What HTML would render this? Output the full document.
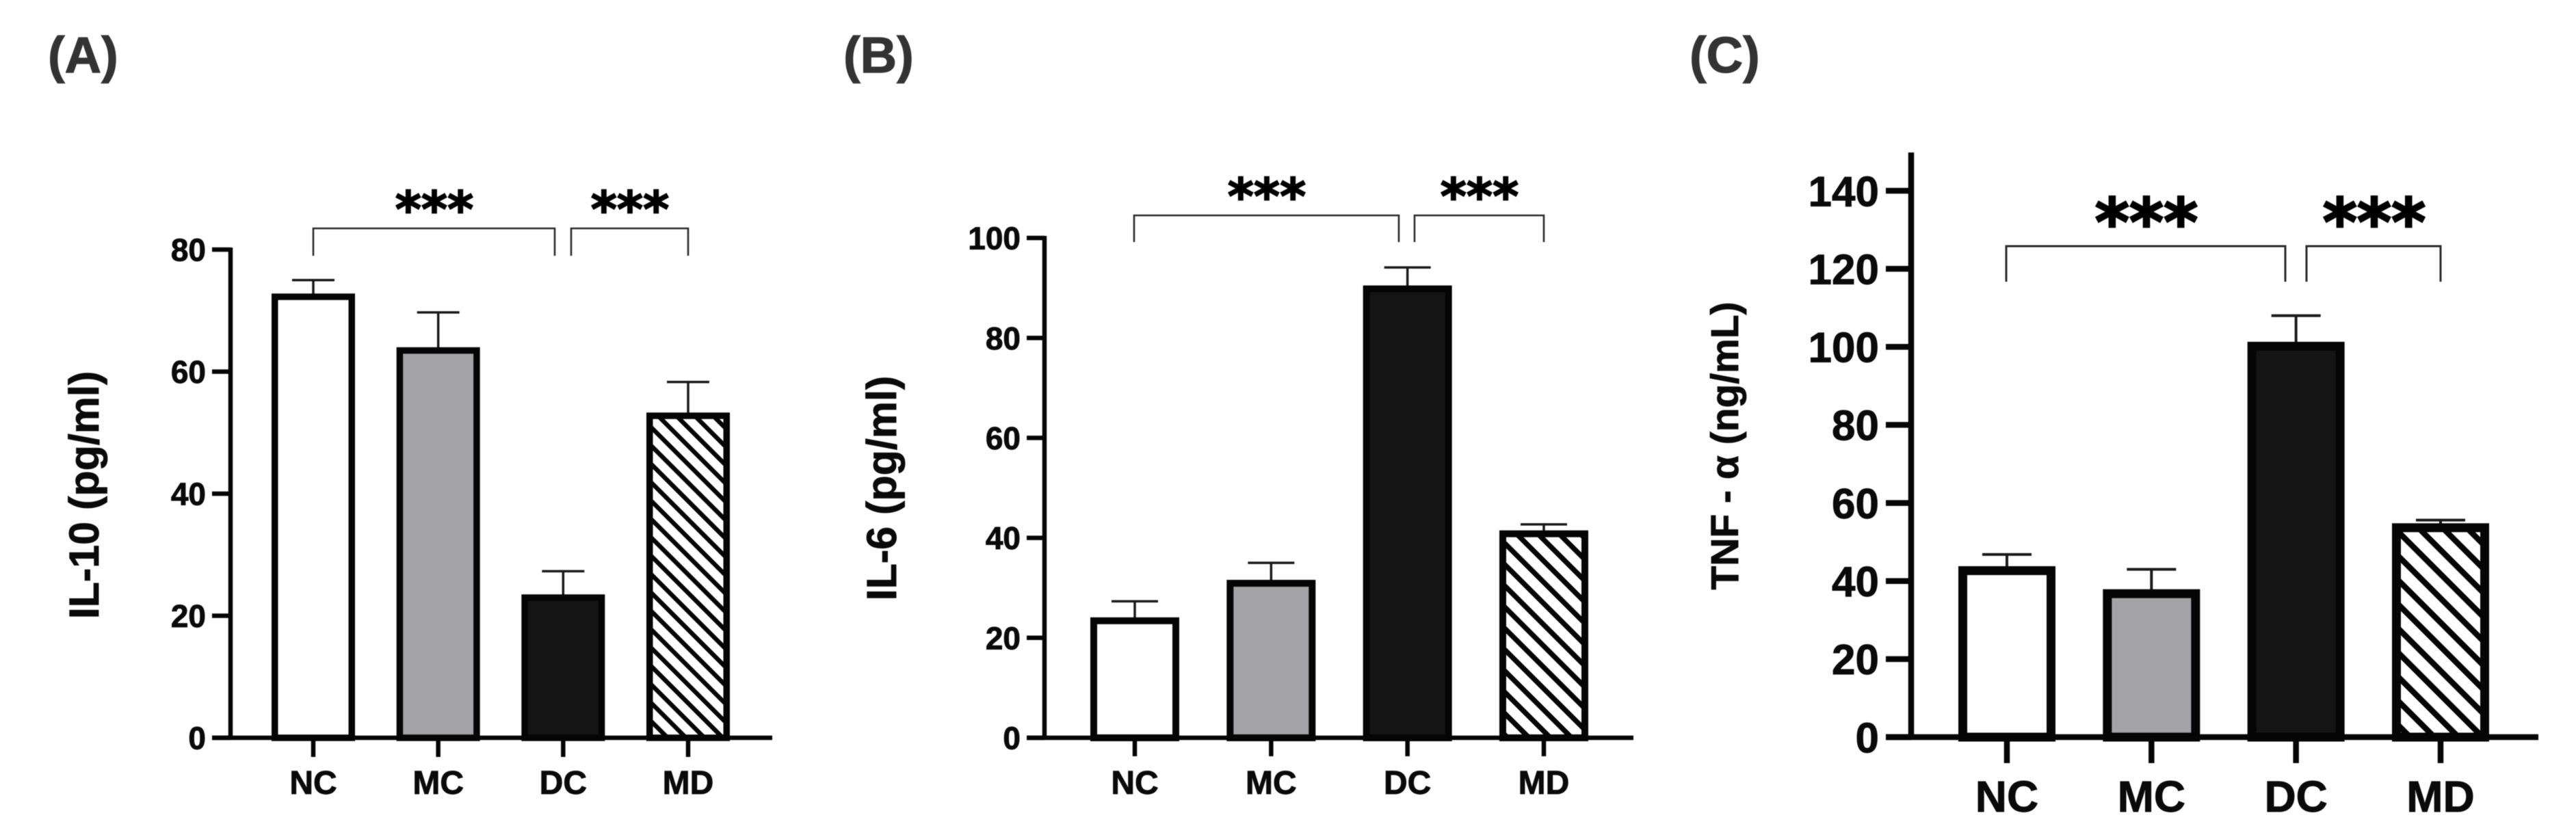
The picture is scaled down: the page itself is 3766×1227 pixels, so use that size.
<!DOCTYPE html>
<html lang="en">
<head>
<meta charset="utf-8">
<title>Cytokine levels by group</title>
<style>
html,body{margin:0;padding:0;background:#fff;width:3766px;height:1227px;overflow:hidden}
svg{display:block;filter:blur(0.6px)}
text{font-family:"Liberation Sans",sans-serif;font-weight:bold;fill:#0a0a0a;stroke:#0a0a0a;stroke-width:0.9px}
.star{font-family:"DejaVu Sans",sans-serif;fill:#000;stroke:#000;stroke-width:1.8px}
.star-large{stroke-width:2.6px}
.panel-tag{fill:#333;stroke:#333;stroke-width:1.2px}
</style>
</head>
<body>
<svg id="figure" xmlns="http://www.w3.org/2000/svg" width="3766" height="1227" viewBox="0 0 3766 1227">
  <defs>
    <pattern id="hatch-a" patternUnits="userSpaceOnUse" width="19" height="19" patternTransform="rotate(-45)">
      <rect width="19" height="19" fill="#fff"></rect>
      <rect x="0" y="0" width="6.5" height="19" fill="#050505"></rect>
    </pattern>
    <pattern id="hatch-b" patternUnits="userSpaceOnUse" width="22" height="22" patternTransform="rotate(-45)">
      <rect width="22" height="22" fill="#fff"></rect>
      <rect x="0" y="0" width="7.5" height="22" fill="#050505"></rect>
    </pattern>
    <pattern id="hatch-c" patternUnits="userSpaceOnUse" width="25" height="25" patternTransform="rotate(-45)">
      <rect width="25" height="25" fill="#fff"></rect>
      <rect x="0" y="0" width="8.5" height="25" fill="#050505"></rect>
    </pattern>
  </defs>
  <text class="panel-tag" x="70" y="106" font-size="74">(A)</text>
  <text class="panel-tag" x="1233" y="106" font-size="74">(B)</text>
  <text class="panel-tag" x="2470" y="106" font-size="74">(C)</text>
  <text transform="translate(144 724) rotate(-90)" text-anchor="middle" font-size="61">IL-10 (pg/ml)</text>
  <text transform="translate(1310 714) rotate(-90)" text-anchor="middle" font-size="61">IL-6 (pg/ml)</text>
  <text transform="translate(2541 652) rotate(-90)" text-anchor="middle" font-size="57">TNF - α (ng/mL)</text>
</svg>
<script>
const categories = ["NC", "MC", "DC", "MD"];

const il10Values = [72.8, 64, 23.5, 53.3];
const il10ErrorTops = [75, 69.7, 27.3, 58.3];
const il10Ticks = [0, 20, 40, 60, 80];

const il6Values = [24.1, 31.6, 90.5, 41.5];
const il6ErrorTops = [27.3, 35, 94.1, 42.7];
const il6Ticks = [0, 20, 40, 60, 80, 100];

const tnfValues = [43.8, 37.9, 101.3, 54.8];
const tnfErrorTops = [46.8, 43, 108, 55.6];
const tnfTicks = [0, 20, 40, 60, 80, 100, 120, 140];

const significanceLabels = ["***", "***"];

const barFills = ["#ffffff", "#a3a2a7", "#141414"];

const svg = document.getElementById("figure");
const NS = "http://www.w3.org/2000/svg";

function make(tag, attrs, parent) {
  const el = document.createElementNS(NS, tag);
  for (const k in attrs) el.setAttribute(k, attrs[k]);
  parent.appendChild(el);
  return el;
}

function drawPanel(cfg) {
  const g = make("g", {}, svg);
  
  

  const yScale = v => cfg.y0 - (v / cfg.yRef) * (cfg.y0 - cfg.yRefPx);
  const xScale = i => cfg.xFirst + i * (cfg.xLast - cfg.xFirst) / (categories.length - 1);

  // bars and error bars
  cfg.values.forEach((v, i) => {
    const cx = xScale(i);
    const top = yScale(v);
    const err = yScale(cfg.errors[i]);
    const errLine = make("line", { x1: cx, x2: cx, y1: err, y2: top + 2, stroke: "#1a1a1a", "stroke-width": cfg.errW }, g);
    
    
    const errCap = make("line", { x1: cx - cfg.capHalf, x2: cx + cfg.capHalf, y1: err, y2: err, stroke: "#1a1a1a", "stroke-width": cfg.errW }, g);
    
    
    const bar = make("rect", {
      x: cx - cfg.barW / 2 + cfg.barStroke / 2,
      y: top + cfg.barStroke / 2,
      width: cfg.barW - cfg.barStroke,
      height: cfg.y0 - top - cfg.barStroke / 2,
      fill: i < barFills.length ? barFills[i] : "url(#" + cfg.hatch + ")",
      stroke: "#050505",
      "stroke-width": cfg.barStroke
    }, g);
    
    
  });

  // axes
  const yAxis = make("line", { x1: cfg.axisX, x2: cfg.axisX, y1: cfg.axisTop, y2: cfg.y0, stroke: "#050505", "stroke-width": cfg.axisW }, g);
  
  
  const xAxis = make("line", { x1: cfg.axisLeft, x2: cfg.axisRight, y1: cfg.y0, y2: cfg.y0, stroke: "#050505", "stroke-width": cfg.axisW }, g);
  
  

  cfg.ticks.forEach(t => {
    const y = yScale(t);
    const tick = make("line", { x1: cfg.axisLeft, x2: cfg.axisX, y1: y, y2: y, stroke: "#050505", "stroke-width": cfg.axisW }, g);
    
    
    const label = make("text", { x: cfg.axisLeft - cfg.tickGap, y: y + cfg.tickFont * 0.36, "text-anchor": "end", "font-size": cfg.tickFont }, g);
    label.textContent = String(t);
    
    
  });

  categories.forEach((c, i) => {
    const cx = xScale(i);
    const tick = make("line", { x1: cx, x2: cx, y1: cfg.y0, y2: cfg.xTickBottom, stroke: "#050505", "stroke-width": cfg.axisW }, g);
    
    
    const label = make("text", { x: cx, y: cfg.catBaseline, "text-anchor": "middle", "font-size": cfg.catFont }, g);
    label.textContent = c;
    
    
  });

  // significance brackets
  cfg.brackets.forEach((b, i) => {
    const path = make("path", {
      d: "M" + b.x1 + " " + cfg.bracketBottom + "V" + cfg.bracketY + "H" + b.x2 + "V" + cfg.bracketBottom,
      fill: "none", stroke: "#2a2a2a", "stroke-width": cfg.bracketW
    }, g);
    
    
    const star = make("text", { class: cfg.starClass, x: b.star, y: cfg.starY, "text-anchor": "middle", "font-size": cfg.starFont }, g);
    star.textContent = significanceLabels[i];
    
    
  });
}

drawPanel({
  id: "il10", values: il10Values, errors: il10ErrorTops, ticks: il10Ticks, hatch: "hatch-a",
  y0: 1079, yRef: 80, yRefPx: 365,
  xFirst: 458, xLast: 1006,
  barW: 122, barStroke: 9.5, errW: 3.5, capHalf: 31,
  axisX: 337, axisTop: 362, axisLeft: 310, axisRight: 1129, axisW: 6.5,
  xTickBottom: 1107, tickFont: 46, tickGap: 9, catFont: 48, catBaseline: 1161,
  bracketY: 334, bracketBottom: 374, bracketW: 2.6,
  brackets: [{ x1: 458, x2: 811, star: 635 }, { x1: 835, x2: 1006, star: 921 }],
  starY: 332, starFont: 73, starClass: "star"
});

drawPanel({
  id: "il6", values: il6Values, errors: il6ErrorTops, ticks: il6Ticks, hatch: "hatch-b",
  y0: 1079, yRef: 100, yRefPx: 348,
  xFirst: 1659, xLast: 2257,
  barW: 130, barStroke: 10, errW: 3.5, capHalf: 34,
  axisX: 1527, axisTop: 345, axisLeft: 1501, axisRight: 2388, axisW: 6.5,
  xTickBottom: 1106, tickFont: 46, tickGap: 9, catFont: 48, catBaseline: 1161,
  bracketY: 315, bracketBottom: 354, bracketW: 2.6,
  brackets: [{ x1: 1658, x2: 2045, star: 1852 }, { x1: 2068, x2: 2257, star: 2163 }],
  starY: 313, starFont: 73, starClass: "star"
});

drawPanel({
  id: "tnf", values: tnfValues, errors: tnfErrorTops, ticks: tnfTicks, hatch: "hatch-c",
  y0: 1078, yRef: 140, yRefPx: 279,
  xFirst: 2934, xLast: 3568,
  barW: 142, barStroke: 13, errW: 4, capHalf: 36,
  axisX: 2794, axisTop: 223, axisLeft: 2757, axisRight: 3711, axisW: 8.5,
  xTickBottom: 1116, tickFont: 62, tickGap: 10, catFont: 64, catBaseline: 1187,
  bracketY: 360, bracketBottom: 412, bracketW: 3,
  brackets: [{ x1: 2933, x2: 3341, star: 3138 }, { x1: 3372, x2: 3568, star: 3471 }],
  starY: 359, starFont: 96, starClass: "star star-large"
});
</script>
</body>
</html>
